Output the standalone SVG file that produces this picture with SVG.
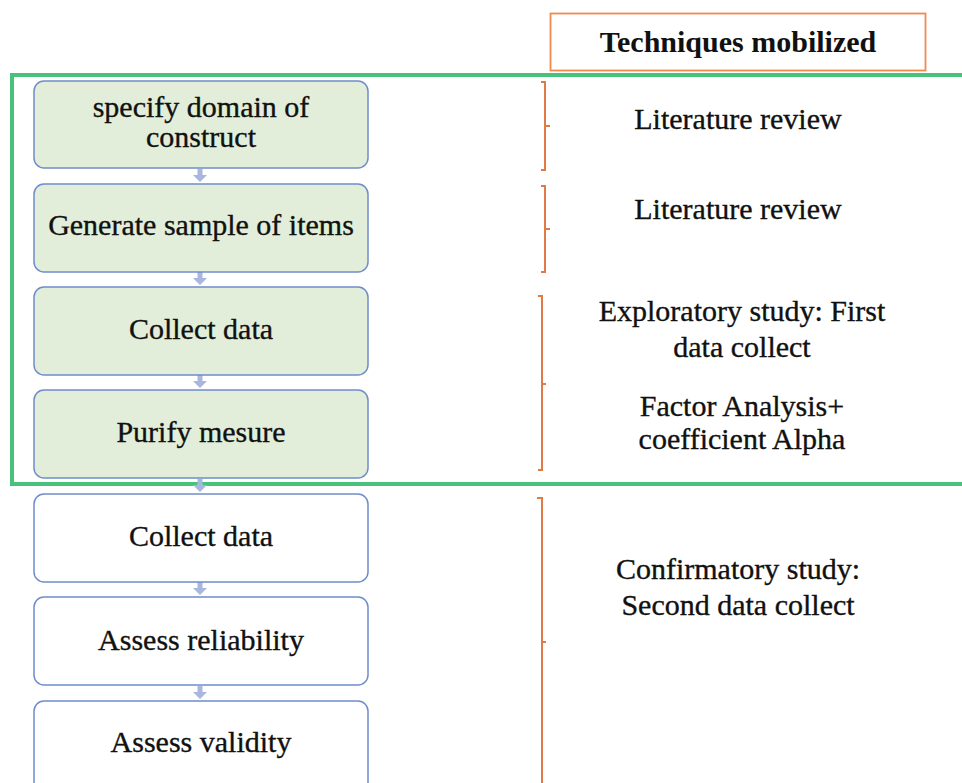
<svg xmlns="http://www.w3.org/2000/svg" width="962" height="783" viewBox="0 0 962 783">
  <style>
    .step { stroke: #6f8dcc; stroke-width: 1.5; }
    .phase1 { fill: #e2eed9; }
    .phase2 { fill: #ffffff; }
    .label { font-family: "Liberation Serif", "Times New Roman", serif; font-size: 30px; fill: #111; stroke: #111; stroke-width: 0.35; text-anchor: middle; }
    .tech { font-family: "Liberation Serif", "Times New Roman", serif; font-size: 30px; fill: #111; stroke: #111; stroke-width: 0.35; text-anchor: middle; }
    .head { font-family: "Liberation Serif", "Times New Roman", serif; font-size: 30px; font-weight: bold; fill: #111; text-anchor: middle; }
    .brace { fill: none; stroke: #e07b45; stroke-width: 2; }
    .arrow { fill: #a9b7df; }
  </style>
  <rect width="962" height="783" fill="#ffffff"/>

  <!-- header -->
  <g id="header">
    <rect x="550.5" y="13.5" width="375" height="57" fill="#ffffff" stroke="#f0894d" stroke-width="1.8"/>
    <text class="head" x="738" y="52">Techniques mobilized</text>
  </g>

  <!-- exploratory phase frame -->
  <rect id="phase-frame" x="12" y="75" width="960" height="409" fill="none" stroke="#48c27a" stroke-width="4"/>

  <!-- connectors between steps -->
  <g id="connectors">
    <path class="arrow" d="M197.5 169h5v6h4.5l-7 7l-7-7h4.5z"/>
    <path class="arrow" d="M197.5 272h5v6h4.5l-7 7l-7-7h4.5z"/>
    <path class="arrow" d="M197.5 375h5v6h4.5l-7 7l-7-7h4.5z"/>
    <path class="arrow" d="M197.5 479h5v6h4.5l-7 7l-7-7h4.5z"/>
    <path class="arrow" d="M197.5 582h5v6h4.5l-7 7l-7-7h4.5z"/>
    <path class="arrow" d="M197.5 686h5v6h4.5l-7 7l-7-7h4.5z"/>
  </g>

  <g id="step1">
    <rect class="step phase1" x="34" y="81" width="334" height="87" rx="10"/>
    <text class="label" x="201" y="117">specify domain of</text>
    <text class="label" x="201" y="147">construct</text>
  </g>
  <g id="step2">
    <rect class="step phase1" x="34" y="184" width="334" height="88" rx="10"/>
    <text class="label" x="201" y="235">Generate sample of items</text>
  </g>
  <g id="step3">
    <rect class="step phase1" x="34" y="287" width="334" height="88" rx="10"/>
    <text class="label" x="201" y="339">Collect data</text>
  </g>
  <g id="step4">
    <rect class="step phase1" x="34" y="390" width="334" height="88" rx="10"/>
    <text class="label" x="201" y="442">Purify mesure</text>
  </g>
  <g id="step5">
    <rect class="step phase2" x="34" y="494" width="334" height="88" rx="10"/>
    <text class="label" x="201" y="546">Collect data</text>
  </g>
  <g id="step6">
    <rect class="step phase2" x="34" y="597" width="334" height="88" rx="10"/>
    <text class="label" x="201" y="650">Assess reliability</text>
  </g>
  <g id="step7">
    <rect class="step phase2" x="34" y="701" width="334" height="100" rx="10"/>
    <text class="label" x="201" y="752">Assess validity</text>
  </g>

  <!-- braces grouping the steps -->
  <g id="braces">
    <path class="brace" d="M541 82h4v44h5M545 126v44h-4"/>
    <path class="brace" d="M541 186h4v43h5M545 229v43h-4"/>
    <path class="brace" d="M538 296h4v88h4M542 384v86h-4"/>
    <path class="brace" d="M537 498h5v144h4M542 642v150"/>
  </g>

  <g id="techniques">
    <text class="tech" x="738" y="129">Literature review</text>
    <text class="tech" x="738" y="219">Literature review</text>
    <text class="tech" x="742" y="321">Exploratory study: First</text>
    <text class="tech" x="742" y="357">data collect</text>
    <text class="tech" x="742" y="416">Factor Analysis+</text>
    <text class="tech" x="742" y="449">coefficient Alpha</text>
    <text class="tech" x="738" y="579">Confirmatory study:</text>
    <text class="tech" x="738" y="615">Second data collect</text>
  </g>
</svg>
